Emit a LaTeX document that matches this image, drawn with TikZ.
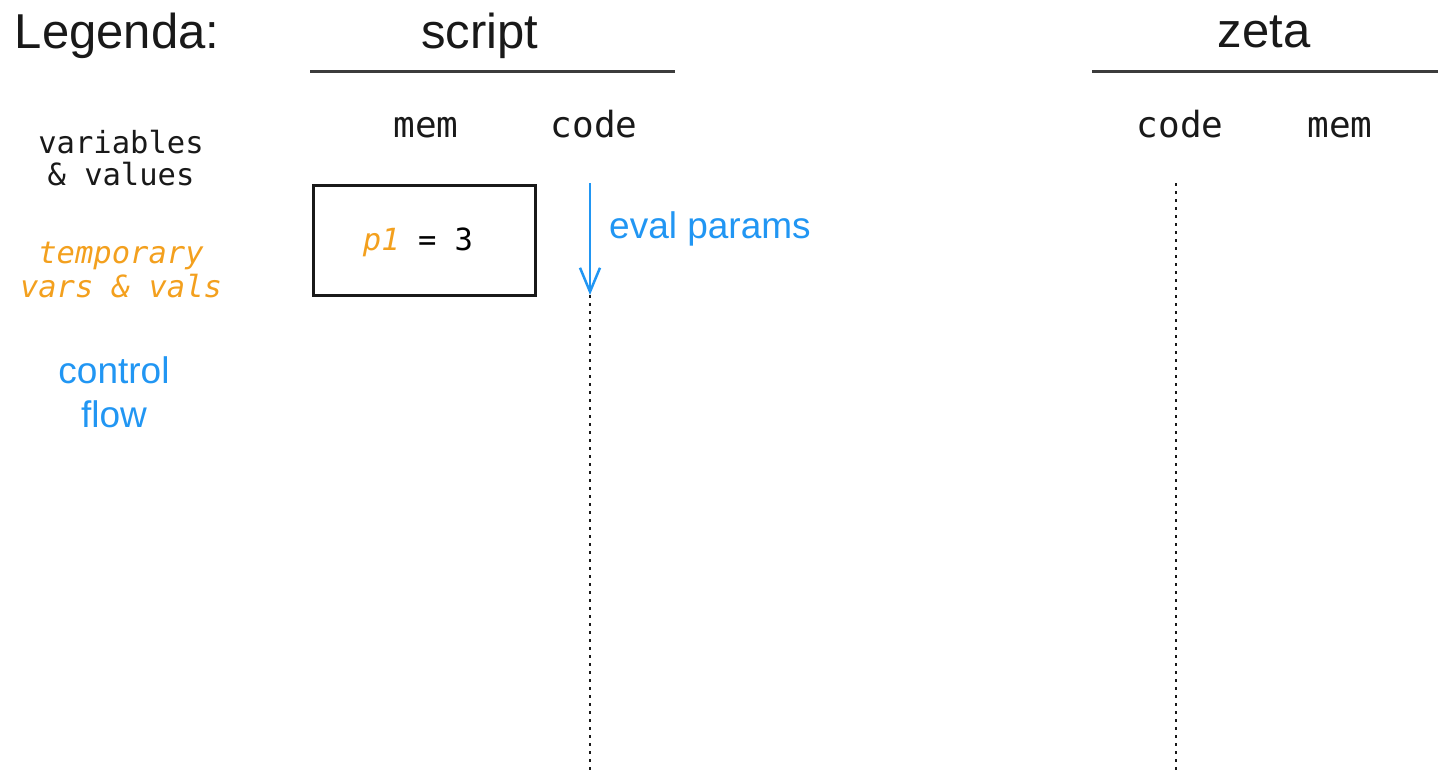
\documentclass[tikz,border=0pt]{standalone}
\usepackage{fontspec}
\setmainfont{Liberation Sans}
\setmonofont{DejaVu Sans Mono}
\usetikzlibrary{arrows.meta}
\definecolor{flowblue}{RGB}{33,150,243}
\definecolor{tmporange}{RGB}{243,160,30}
\definecolor{ink}{RGB}{25,25,25}
\begin{document}
\begin{tikzpicture}[x=1pt,y=-1pt,
  title/.style={anchor=base,inner sep=0pt,text=ink,font=\fontsize{49}{52}\selectfont},
  colhead/.style={anchor=base,inner sep=0pt,text=ink,font=\ttfamily\fontsize{36}{38}\selectfont},
  legend/.style={anchor=base,inner sep=0pt,align=center,font=\ttfamily\fontsize{30.5}{32}\selectfont},
  flowtext/.style={anchor=base,inner sep=0pt,text=flowblue,font=\fontsize{37}{44}\selectfont},
  rule/.style={line width=3pt,draw=ink!85},
  membox/.style={draw=ink,line width=2.5pt,minimum width=222pt,minimum height=110pt,inner sep=0pt,anchor=north west},
  lifeline/.style={line width=2.5pt,draw=ink,dash pattern=on 2.5pt off 5.5pt},
  flowarrow/.style={line width=2.5pt,draw=flowblue,-{Straight Barb[length=24pt,width=20pt,line width=2.5pt]}}]
\useasboundingbox (0,0) rectangle (1438,771);

% titles and column rules
\node[title] (legenda) at (117,48) {Legenda:};
\node[title] (script) at (480,48) {script};
\node[title] (zeta) at (1264,47) {zeta};
\coordinate (sl) at (310,71); \coordinate (sr) at (675,71);
\coordinate (zl) at (1092,71); \coordinate (zr) at (1438,71);
\draw[rule] (sl) -- (sr);
\draw[rule] (zl) -- (zr);

% column headers
\node[colhead] (smem) at (426,137) {mem};
\node[colhead] (scode) at (594,137) {code};
\node[colhead] (zcode) at (1180,137) {code};
\node[colhead] (zmem) at (1340,137) {mem};

% legend entries (base anchor sits on the last line)
\node[legend,text=ink] (lvars) at (121,185) {variables\\\& values};
\node[legend,text=tmporange,font=\ttfamily\itshape\fontsize{30.5}{34}\selectfont] (ltmp) at (121,297) {temporary\\vars \& vals};
\node[flowtext,align=center] (lflow) at (114,427) {control\\flow};

% script memory box
\node[membox] (box) at (312,184) {};
\node[anchor=base,inner sep=0pt,font=\ttfamily\fontsize{30.5}{33}\selectfont] (p1) at (418,250)
  {\textcolor{tmporange}{\itshape p1} = 3};

% script code lifeline with control flow
\coordinate (sctop) at (590,183);
\coordinate (scmid) at (590,295);
\coordinate (scbot) at (590,771);
\draw[lifeline] (scmid) -- (scbot);
\draw[flowarrow] (sctop) -- (scmid);
\node[flowtext,anchor=base west] (eval) at (609,238) {eval params};

% zeta code lifeline
\coordinate (zctop) at (1176,183);
\coordinate (zcbot) at (1176,771);
\draw[lifeline] (zctop) -- (zcbot);
\end{tikzpicture}
\end{document}
